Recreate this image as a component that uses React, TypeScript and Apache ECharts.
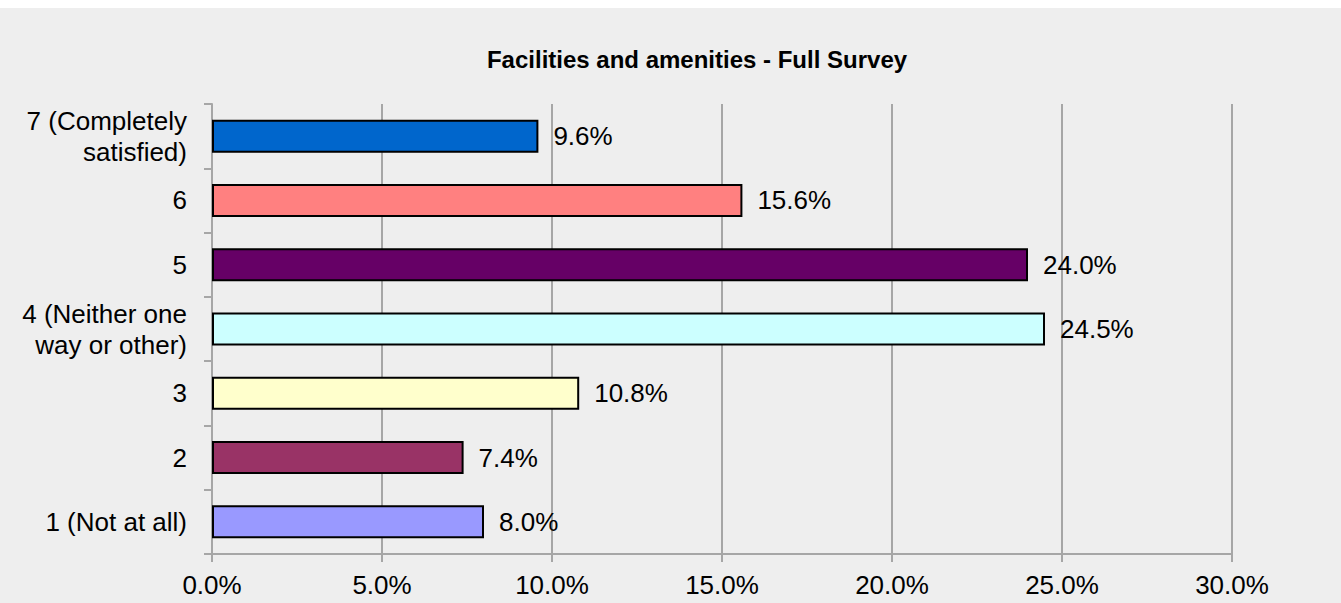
import React, { useEffect, useRef } from "react";
import * as echarts from "echarts";

const titleText = "Facilities and amenities - Full Survey";
const categories = [
  "1 (Not at all)",
  "2",
  "3",
  "4 (Neither one\nway or other)",
  "5",
  "6",
  "7 (Completely\nsatisfied)",
];
const values = [8.0, 7.4, 10.8, 24.5, 24.0, 15.6, 9.6];
const barColors = ["#9999FF", "#993366", "#FFFFCC", "#CCFFFF", "#660066", "#FF8080", "#0066CC"];
const xMin = 0;
const xMax = 30;
const xStep = 5;

export default function App() {
  const ref = useRef<HTMLDivElement>(null);
  useEffect(() => {
    document.body.style.margin = "0";
    const chart = echarts.init(ref.current!, null, { renderer: "svg" });
    const font = "'Liberation Sans', Arial, sans-serif";
    chart.setOption({
      animation: false,
      backgroundColor: "#EEEEEE",
      textStyle: { fontFamily: font },
      title: {
        text: titleText,
        left: 692,
        top: 34,
        textAlign: "center",
        textStyle: { fontSize: 24, fontWeight: "bold", color: "#000", fontFamily: font },
      },
      grid: { left: 212, right: 109, top: 96, bottom: 49, containLabel: false },
      xAxis: {
        type: "value",
        min: xMin,
        max: xMax,
        interval: xStep,
        axisLine: { show: true, lineStyle: { color: "#A6A6A6", width: 2 } },
        axisTick: { show: true, length: 8, lineStyle: { color: "#A6A6A6", width: 2 } },
        splitLine: { show: true, lineStyle: { color: "#A6A6A6", width: 2 } },
        axisLabel: {
          margin: 18,
          fontSize: 26,
          color: "#000",
          fontFamily: font,
          formatter: (v: number) => v.toFixed(1) + "%",
        },
      },
      yAxis: {
        type: "category",
        data: categories,
        axisLine: { show: true, lineStyle: { color: "#A6A6A6", width: 2 } },
        axisTick: { show: true, length: 8, lineStyle: { color: "#A6A6A6", width: 2 } },
        axisLabel: {
          margin: 25,
          fontSize: 26,
          lineHeight: 31,
          color: "#000",
          fontFamily: font,
          align: "right",
        },
      },
      series: [
        {
          type: "bar",
          data: values.map((v, i) => ({
            value: v,
            itemStyle: { color: barColors[i], borderColor: "#000", borderWidth: 2 },
          })),
          barWidth: 33,
          label: {
            show: true,
            position: "right",
            distance: 15,
            fontSize: 26,
            color: "#000",
            fontFamily: font,
            formatter: (p: any) => Number(p.value).toFixed(1) + "%",
          },
        },
      ],
    });
    return () => chart.dispose();
  }, []);
  return (
    <div style={{ paddingTop: 8, background: "#fff" }}>
      <div ref={ref} style={{ width: 1341, height: 595 }} />
    </div>
  );
}
